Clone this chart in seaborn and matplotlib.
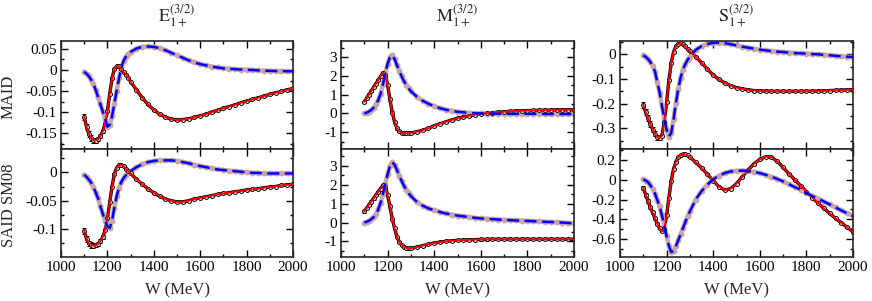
import matplotlib
matplotlib.use('Agg')
import matplotlib.pyplot as plt
import seaborn as sns
from matplotlib.ticker import MultipleLocator, FuncFormatter

# W grid (MeV): 10 MeV steps through the resonance, 25 MeV above
W = list(range(1100, 1300, 10)) + list(range(1300, 2001, 25))

# E1+ (3/2)
E_maid_re = [-0.112, -0.135, -0.152, -0.162, -0.167, -0.168, -0.165, -0.157, -0.146, -0.128,
             -0.098, -0.057, -0.020, 0.002, 0.009, 0.009, 0.002, -0.005, -0.011, -0.018,
             -0.028, -0.047, -0.066, -0.082, -0.095, -0.105, -0.112, -0.117, -0.119,
             -0.118, -0.116, -0.113, -0.109, -0.105, -0.100, -0.096, -0.091, -0.087, -0.083, -0.078, -0.074,
             -0.070, -0.066, -0.062, -0.058, -0.054, -0.051, -0.047, -0.044]
E_maid_im = [-0.004, -0.009, -0.015, -0.023, -0.034, -0.048, -0.065, -0.082, -0.099, -0.116,
             -0.135, -0.130, -0.110, -0.080, -0.049, -0.020, 0.006, 0.022, 0.032, 0.038,
             0.043, 0.051, 0.055, 0.056, 0.055, 0.052, 0.047, 0.041, 0.035,
             0.029, 0.023, 0.018, 0.014, 0.011, 0.008, 0.006, 0.004, 0.003, 0.002, 0.001, 0.0005,
             0.0, -0.001, -0.0015, -0.002, -0.0025, -0.0025, -0.003, -0.003]
E_said_re = [-0.103, -0.117, -0.125, -0.128, -0.129, -0.128, -0.126, -0.121, -0.114, -0.102,
             -0.081, -0.053, -0.025, -0.003, 0.008, 0.013, 0.013, 0.011, 0.006, 0.002,
             -0.002, -0.012, -0.021, -0.029, -0.036, -0.042, -0.047, -0.050, -0.052,
             -0.052, -0.050, -0.047, -0.045, -0.043, -0.041, -0.039, -0.037, -0.036, -0.034, -0.033, -0.031,
             -0.030, -0.029, -0.027, -0.026, -0.025, -0.023, -0.022, -0.021]
E_said_im = [-0.004, -0.008, -0.013, -0.018, -0.026, -0.036, -0.046, -0.060, -0.073, -0.085,
             -0.095, -0.098, -0.085, -0.062, -0.042, -0.027, -0.017, -0.010, -0.005, -0.001,
             0.002, 0.009, 0.014, 0.018, 0.020, 0.021, 0.021, 0.021, 0.020,
             0.018, 0.016, 0.013, 0.011, 0.009, 0.007, 0.005, 0.004, 0.003, 0.002, 0.001, 0.000,
             -0.001, -0.001, -0.002, -0.002, -0.002, -0.002, -0.002, -0.002]

# M1+ (3/2)
M_maid_re = [0.62, 0.81, 1.01, 1.20, 1.40, 1.59, 1.79, 1.98, 2.18, 2.08,
             1.52, 0.75, 0.05, -0.45, -0.80, -0.95, -1.03, -1.05, -1.06, -1.06,
             -1.04, -0.98, -0.90, -0.79, -0.66, -0.55, -0.45, -0.35, -0.26,
             -0.19, -0.12, -0.07, -0.03, 0.01, 0.04, 0.07, 0.09, 0.11, 0.13, 0.14, 0.15,
             0.16, 0.17, 0.18, 0.18, 0.19, 0.19, 0.20, 0.20]
M_maid_im = [0.00, 0.04, 0.10, 0.19, 0.31, 0.48, 0.72, 1.05, 1.55, 2.15,
             2.65, 3.00, 3.12, 2.90, 2.58, 2.27, 1.98, 1.73, 1.52, 1.34,
             1.18, 0.90, 0.68, 0.52, 0.38, 0.28, 0.20, 0.14, 0.09,
             0.06, 0.03, 0.01, 0.00, -0.01, -0.01, -0.01, -0.02, -0.02, -0.02, -0.02, -0.02,
             -0.02, -0.02, -0.03, -0.03, -0.03, -0.03, -0.03, -0.03]
M_said_re = [0.59, 0.76, 0.94, 1.11, 1.28, 1.45, 1.63, 1.80, 1.97, 1.90,
             1.45, 0.85, 0.20, -0.30, -0.75, -1.02, -1.18, -1.28, -1.34, -1.37,
             -1.36, -1.30, -1.22, -1.15, -1.08, -1.03, -0.99, -0.96, -0.94,
             -0.92, -0.91, -0.90, -0.89, -0.89, -0.88, -0.88, -0.88, -0.88, -0.88, -0.88, -0.88,
             -0.88, -0.88, -0.88, -0.88, -0.88, -0.88, -0.88, -0.88]
M_said_im = [0.00, 0.04, 0.10, 0.18, 0.29, 0.45, 0.70, 1.05, 1.50, 2.05,
             2.55, 3.00, 3.20, 3.05, 2.78, 2.48, 2.20, 1.95, 1.73, 1.55,
             1.40, 1.10, 0.90, 0.75, 0.65, 0.56, 0.48, 0.42, 0.37,
             0.33, 0.29, 0.25, 0.22, 0.20, 0.18, 0.16, 0.14, 0.13, 0.11, 0.10, 0.09,
             0.07, 0.06, 0.04, 0.03, 0.02, 0.00, -0.02, -0.04]

# S1+ (3/2)
S_maid_re = [-0.205, -0.235, -0.258, -0.283, -0.305, -0.322, -0.336, -0.340, -0.330, -0.275,
             -0.195, -0.104, -0.035, 0.010, 0.032, 0.043, 0.045, 0.040, 0.032, 0.022,
             0.012, -0.010, -0.034, -0.060, -0.084, -0.102, -0.116, -0.127, -0.135,
             -0.140, -0.144, -0.147, -0.148, -0.149, -0.150, -0.150, -0.150, -0.150, -0.150, -0.150, -0.150,
             -0.149, -0.149, -0.148, -0.147, -0.146, -0.145, -0.144, -0.143]
S_maid_im = [-0.004, -0.010, -0.019, -0.031, -0.046, -0.070, -0.112, -0.155, -0.210, -0.260,
             -0.305, -0.334, -0.318, -0.262, -0.198, -0.140, -0.095, -0.062, -0.040, -0.022,
             -0.010, 0.018, 0.033, 0.042, 0.046, 0.047, 0.045, 0.041, 0.036,
             0.031, 0.027, 0.023, 0.019, 0.016, 0.013, 0.011, 0.009, 0.007, 0.005, 0.004, 0.003,
             0.001, 0.000, -0.002, -0.004, -0.006, -0.008, -0.010, -0.011]
S_said_re = [-0.083, -0.150, -0.215, -0.280, -0.330, -0.390, -0.445, -0.490, -0.520, -0.500,
             -0.360, -0.180, -0.010, 0.110, 0.180, 0.225, 0.248, 0.255, 0.255, 0.245,
             0.230, 0.175, 0.120, 0.055, -0.010, -0.070, -0.105, -0.090, -0.040,
             0.030, 0.100, 0.160, 0.205, 0.232, 0.228, 0.185, 0.125, 0.060, 0.000, -0.060, -0.120,
             -0.180, -0.235, -0.290, -0.340, -0.390, -0.435, -0.480, -0.525]
S_said_im = [0.003, -0.008, -0.025, -0.055, -0.090, -0.140, -0.205, -0.270, -0.360, -0.460,
             -0.570, -0.670, -0.730, -0.720, -0.670, -0.610, -0.550, -0.490, -0.430, -0.370,
             -0.320, -0.200, -0.115, -0.050, 0.005, 0.040, 0.068, 0.083, 0.090,
             0.092, 0.088, 0.079, 0.067, 0.050, 0.030, 0.008, -0.017, -0.045, -0.075, -0.100, -0.133,
             -0.165, -0.190, -0.220, -0.250, -0.280, -0.310, -0.340, -0.365]

# error bars of the real-part data
err_E_maid = [0.007, 0.007, 0.007, 0.007, 0.006, 0.006, 0.005, 0.004, 0.003, 0.003] + [0.002] * 39
err_E_said = [0.005, 0.005, 0.005, 0.005, 0.004, 0.004, 0.004, 0.003, 0.003, 0.002] + [0.0015] * 39
err_M_maid = [0.06] * 49
err_M_said = [0.06] * 49
err_S_maid = [0.012, 0.012, 0.012, 0.012, 0.011, 0.010, 0.010, 0.008, 0.006, 0.005] + [0.004] * 39
err_S_said = [0.020, 0.020, 0.020, 0.018, 0.018, 0.016, 0.015, 0.012, 0.010, 0.010] + [0.008] * 39

titles = [r'$\mathrm{E}_{1+}^{(3/2)}$', r'$\mathrm{M}_{1+}^{(3/2)}$', r'$\mathrm{S}_{1+}^{(3/2)}$']
row_names = ['MAID', 'SAID SM08']

panels = [
    [(E_maid_re, E_maid_im, err_E_maid), (M_maid_re, M_maid_im, err_M_maid), (S_maid_re, S_maid_im, err_S_maid)],
    [(E_said_re, E_said_im, err_E_said), (M_said_re, M_said_im, err_M_said), (S_said_re, S_said_im, err_S_said)],
]
ylims = [[(-0.188, 0.069), (-1.9, 3.87), (-0.384, 0.054)],
         [(-0.149, 0.041), (-1.82, 3.89), (-0.78, 0.31)]]
ysteps = [[(0.05, 0.025), (1, 0.5), (0.1, 0.05)],
          [(0.05, 0.025), (1, 0.5), (0.2, 0.1)]]

sns.set_style('ticks')
plt.rcParams['font.family'] = ['Liberation Serif', 'DejaVu Serif']
plt.rcParams['mathtext.fontset'] = 'stix'
plt.rcParams['axes.unicode_minus'] = False

FW, FH = 872, 301
fig = plt.figure(figsize=(FW / 100, FH / 100), dpi=100)

col_left = [61, 341, 620]
col_width = [232, 233, 233]
row_top = [41, 149]
row_h = 108

rosy = '#c9a5a5'


def fmt(v, pos):
    if abs(v) < 1e-9:
        return '0'
    return '{:g}'.format(round(v, 4))


for r in range(2):
    for c in range(3):
        re_v, im_v, err = panels[r][c]
        ax = fig.add_axes([col_left[c] / FW, 1 - (row_top[r] + row_h) / FH,
                           col_width[c] / FW, row_h / FH])
        # data points
        ax.plot(W, re_v, color='black', lw=2.4, zorder=1)
        ax.errorbar(W, re_v, yerr=err, fmt='o', ms=2.8, mfc='white', mec='black', mew=0.7,
                    ecolor='black', elinewidth=0.7, capsize=1.4, zorder=2)
        ax.plot(W, im_v, color=rosy, lw=3.2, zorder=2, marker='o', ms=3.2, mec=rosy, mfc=rosy)
        # fits
        sns.lineplot(x=W, y=re_v, ax=ax, color='red', lw=1.4, zorder=3)
        sns.lineplot(x=W, y=im_v, ax=ax, color='blue', lw=1.8, linestyle=(0, (4.8, 2.2)), zorder=4)

        ax.set_xlim(1000, 2000)
        ax.set_ylim(*ylims[r][c])
        ax.xaxis.set_major_locator(MultipleLocator(200))
        ax.xaxis.set_minor_locator(MultipleLocator(100))
        ax.yaxis.set_major_locator(MultipleLocator(ysteps[r][c][0]))
        ax.yaxis.set_minor_locator(MultipleLocator(ysteps[r][c][1]))
        ax.yaxis.set_major_formatter(FuncFormatter(fmt))
        ax.tick_params(which='both', direction='in', top=True, right=True, width=1,
                       labelsize=11, pad=3, colors='black')
        ax.tick_params(which='major', length=5)
        ax.tick_params(which='minor', length=2.5)
        for s in ax.spines.values():
            s.set_linewidth(1.2)
        ax.set_xlabel('')
        ax.set_ylabel('')
        if r == 0:
            ax.tick_params(labelbottom=False)
        else:
            fig.text((col_left[c] + col_width[c] / 2) / FW, 1 - 290 / FH, 'W (MeV)',
                     ha='center', va='center', fontsize=12)

for c in range(3):
    fig.text((col_left[c] + col_width[c] / 2) / FW, 1 - 16 / FH, titles[c],
             ha='center', va='center', fontsize=13)

fig.text(9 / FW, 1 - 97 / FH, row_names[0], rotation=90, ha='center', va='center', fontsize=12)
fig.text(9 / FW, 1 - 205 / FH, row_names[1], rotation=90, ha='center', va='center', fontsize=12)

fig.savefig('out.png', dpi=100)
